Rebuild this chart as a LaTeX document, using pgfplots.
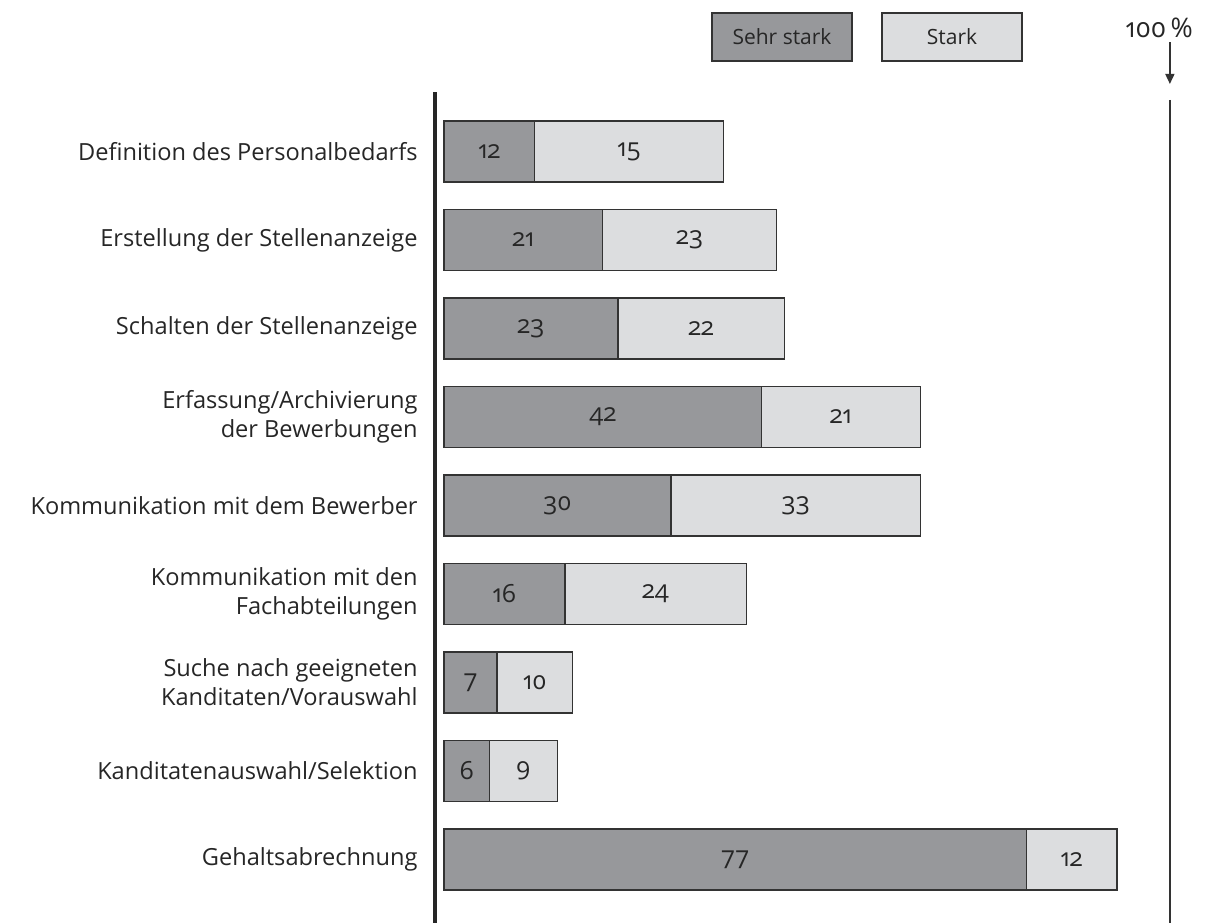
\documentclass[border=0pt]{standalone}
\usepackage{pgfplots}
\pgfplotsset{compat=1.18}
\usepackage{fontspec}
\setmainfont{Open Sans}[Numbers=OldStyle]
\usetikzlibrary{arrows.meta}
\definecolor{darkbar}{HTML}{97989B}
\definecolor{lightbar}{HTML}{DCDDDF}
\definecolor{edge}{HTML}{333333}
\begin{document}
\begin{tikzpicture}
\useasboundingbox (0,0) rectangle (608pt,-461.5pt);
\begin{axis}[at={(217.5pt,-46pt)}, anchor=north west,
  scale only axis, width=390.5pt, height=415.5pt,
  xbar stacked, bar width=30.5pt, y dir=reverse,
  xmin=-1.19, xmax=102.1, ymin=-0.672, ymax=8.717,
  axis x line=none, xtick=\empty,
  axis y line*=left,
  y axis line style={line width=2pt, color=black!85},
  ytick={0,...,8},
  yticklabels={Definition des Personalbedarfs,
    Erstellung der Stellenanzeige,
    Schalten der Stellenanzeige,
    {Erfassung/Archivierung\\der Bewerbungen},
    Kommunikation mit dem Bewerber,
    {Kommunikation mit den\\Fachabteilungen},
    {Suche nach geeigneten\\Kanditaten/Vorauswahl},
    Kanditatenauswahl/Selektion,
    Gehaltsabrechnung},
  major tick length=0pt,
  yticklabel style={align=right, font=\fontsize{11.8}{14.5}\selectfont, inner sep=0pt, xshift=-8.5pt, text=black!85},
  clip=false,
  point meta=explicit symbolic,
  nodes near coords,
  nodes near coords align=center,
  nodes near coords style={anchor=center, font=\fontsize{12.5}{14}\selectfont, text=black!85},
]
\addplot[fill=darkbar, draw=edge, line width=0.7pt]
  table[x=v, y=y, meta=l] {
y v l
0 12 12
1 21 21
2 23 23
3 42 42
4 30 30
5 16 16
6 7 7
7 6 6
8 77 77
};
\addplot[fill=lightbar, draw=edge, line width=0.7pt]
  table[x=v, y=y, meta=l] {
y v l
0 25 15
1 23 23
2 22 22
3 21 21
4 33 33
5 24 24
6 10 10
7 9 9
8 12 12
};
\draw[color=black!80, line width=0.75pt] (axis cs:96,-0.582) -- (axis cs:96,8.717);
\draw[color=black!80, line width=0.75pt, -{Triangle[width=4.5pt,length=5pt]}] (axis cs:96,-1.237) -- (axis cs:96,-0.763);
\node[font=\fontsize{13.5}{15}\selectfont, text=black!85] at (axis cs:94.6,-1.40) {100\,\%};
\end{axis}
\begin{scope}[x=0.5pt, y=-0.5pt]
\node[draw=edge, line width=0.6pt, fill=darkbar, minimum width=70pt, minimum height=24pt, font=\fontsize{10.5}{12}\selectfont, text=black!85] at (782,37) {Sehr stark};
\node[draw=edge, line width=0.6pt, fill=lightbar, minimum width=70pt, minimum height=24pt, font=\fontsize{10.5}{12}\selectfont, text=black!85] at (952,37) {Stark};
\end{scope}
\end{tikzpicture}
\end{document}
